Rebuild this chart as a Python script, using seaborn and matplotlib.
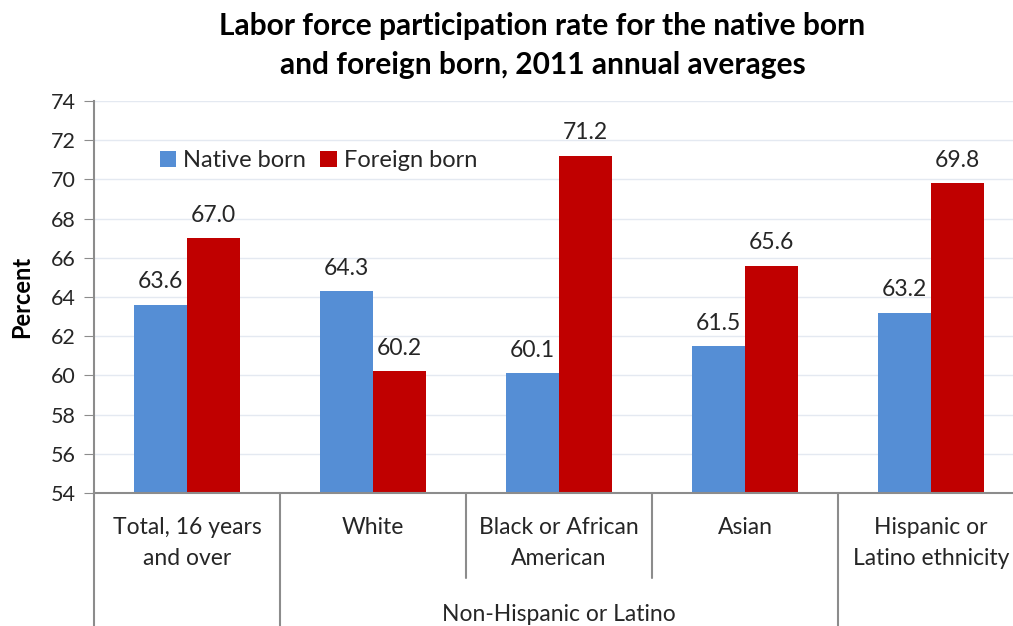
"""Labor force participation rate, native vs foreign born, 2011."""

import matplotlib.pyplot as plt
import matplotlib.transforms as mtransforms
import pandas as pd
import seaborn as sns

categories = ['Total, 16 years\nand over', 'White', 'Black or African\nAmerican',
              'Asian', 'Hispanic or\nLatino ethnicity']
native_born = [63.6, 64.3, 60.1, 61.5, 63.2]
foreign_born = [67.0, 60.2, 71.2, 65.6, 69.8]
group_label = 'Non-Hispanic or Latino'

df = pd.DataFrame({
    'category': categories * 2,
    'rate': native_born + foreign_born,
    'nativity': ['Native born'] * 5 + ['Foreign born'] * 5,
})

sns.set_style('white')
plt.rcParams['font.family'] = ['Lato', 'DejaVu Sans']
text_color = '#262626'
axis_color = '#8c8c8c'

fig = plt.figure(figsize=(10.13, 6.26), dpi=100)
ax = fig.add_axes([94 / 1013, 1 - 493 / 626, 930 / 1013, 392 / 626])

sns.barplot(data=df, x='category', y='rate', hue='nativity', ax=ax,
            palette=['#558ED5', '#C00000'], width=0.57, saturation=1,
            errorbar=None, linewidth=0)

ax.set_ylim(54, 74)
ax.set_xlim(-0.5, 4.5)
ax.set_yticks(range(54, 75, 2))
ax.yaxis.grid(True, color='#e4e9f1', linewidth=1)
ax.set_axisbelow(True)
ax.tick_params(axis='y', left=True, length=7, color=axis_color, labelsize=15.5,
               labelcolor=text_color, pad=6)
ax.tick_params(axis='x', bottom=False, labelbottom=False)
for side in ['top', 'right']:
    ax.spines[side].set_visible(False)
for side in ['left', 'bottom']:
    ax.spines[side].set_color(axis_color)
    ax.spines[side].set_linewidth(1.5)

ax.set_xlabel('')
ax.set_ylabel('Percent', fontsize=17, fontweight='bold', color='black', labelpad=13)

for container in ax.containers:
    ax.bar_label(container, fmt='%.1f', padding=9, fontsize=16.5, color=text_color)

# Multi-level category axis drawn below the plot
trans = mtransforms.blended_transform_factory(ax.transData, ax.transAxes)
for i, label in enumerate(categories):
    ax.text(i, -0.062, label, transform=trans, ha='center', va='top',
            fontsize=16.5, color=text_color, linespacing=1.55)
for x, bottom in [(-0.5, -0.4), (0.5, -0.4), (1.5, -0.217), (2.5, -0.217), (3.5, -0.4)]:
    ax.plot([x, x], [0, bottom], transform=trans, color=axis_color,
            linewidth=1.5, clip_on=False)
ax.text(2.0, -0.31, group_label, transform=trans, ha='center', va='center',
        fontsize=16.5, color=text_color)

ax.legend(loc='center left', bbox_to_anchor=(0.058, 0.847), frameon=False,
          ncol=2, fontsize=17, handlelength=0.7, handleheight=0.7,
          handletextpad=0.3, columnspacing=0.6, borderpad=0, labelcolor=text_color)

fig.text(0.5355, 0.927, 'Labor force participation rate for the native born\n'
         'and foreign born, 2011 annual averages', ha='center', va='center',
         fontsize=21.5, fontweight='bold', color='black', linespacing=1.5)

fig.savefig('out.png', dpi=100)
plt.close(fig)
